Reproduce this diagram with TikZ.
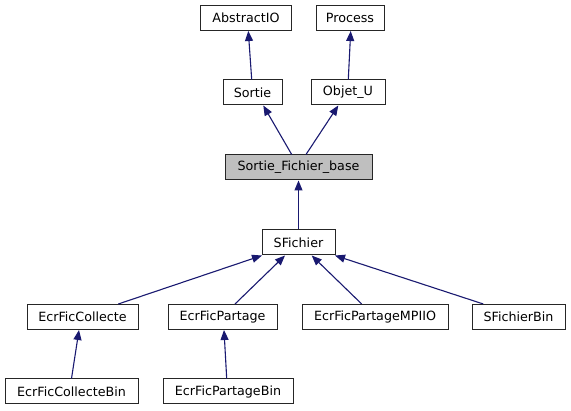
\documentclass[tikz,border=0pt]{standalone}
\usepackage{fontspec}
\setmainfont{DejaVu Sans}
\usetikzlibrary{arrows.meta}
\definecolor{edgeblue}{HTML}{191970}
\definecolor{boxgray}{HTML}{BFBFBF}
\begin{document}
\begin{tikzpicture}[x=1pt,y=-1pt,
  box/.style={draw=black!85, line width=1pt, fill=white, inner sep=0pt, minimum height=25pt,
    font=\fontsize{12.7}{14}\selectfont},
  arr/.style={draw=edgeblue, line width=1.1pt, -{Triangle[length=10pt,width=8pt,fill=edgeblue]}}]
\useasboundingbox (0,0) rectangle (571,411);
\node[box, minimum width=91pt] (abs) at (246,18) {AbstractIO};
\node[box, minimum width=68pt] (proc) at (350,18) {Process};
\node[box, minimum width=59pt] (sortie) at (252.5,92.5) {Sortie};
\node[box, minimum width=74pt] (objet) at (348,92.5) {Objet\_U};
\node[box, minimum width=147pt, fill=boxgray] (sfb) at (298.5,167.5) {Sortie\_Fichier\_base};
\node[box, minimum width=73pt] (sfich) at (298.5,242.5) {SFichier};
\node[box, minimum width=111pt] (col) at (82.5,317) {EcrFicCollecte};
\node[box, minimum width=109pt] (part) at (222.5,317) {EcrFicPartage};
\node[box, minimum width=146pt] (mpi) at (375,317) {EcrFicPartageMPIIO};
\node[box, minimum width=93pt] (sbin) at (518.5,317) {SFichierBin};
\node[box, minimum width=133pt] (colbin) at (71.5,391.5) {EcrFicCollecteBin};
\node[box, minimum width=130pt] (partbin) at (228,391.5) {EcrFicPartageBin};

\draw[arr] ([xshift=-0.8pt]sortie.north) -- ([xshift=2.3pt]abs.south);
\draw[arr] ([xshift=0.3pt]objet.north) -- ([xshift=0.7pt]proc.south);
\draw[arr] ([xshift=-6.8pt]sfb.north) -- ([xshift=10.8pt]sortie.south);
\draw[arr] ([xshift=7.5pt]sfb.north) -- ([xshift=-9.7pt]objet.south);
\draw[arr] (sfich.north) -- (sfb.south);
\draw[arr] ([xshift=35.8pt]col.north) -- ([xshift=-36.5pt]sfich.south);
\draw[arr] ([xshift=12.5pt]part.north) -- ([xshift=-13.5pt]sfich.south);
\draw[arr] ([xshift=-13.3pt]mpi.north) -- ([xshift=13.2pt]sfich.south);
\draw[arr] ([xshift=-35.2pt]sbin.north) -- ([xshift=36.5pt]sfich.south);
\draw[arr] (colbin.north) -- ([xshift=-3.5pt]col.south);
\draw[arr] ([xshift=-1.3pt]partbin.north) -- ([xshift=1.5pt]part.south);
\end{tikzpicture}
\end{document}
